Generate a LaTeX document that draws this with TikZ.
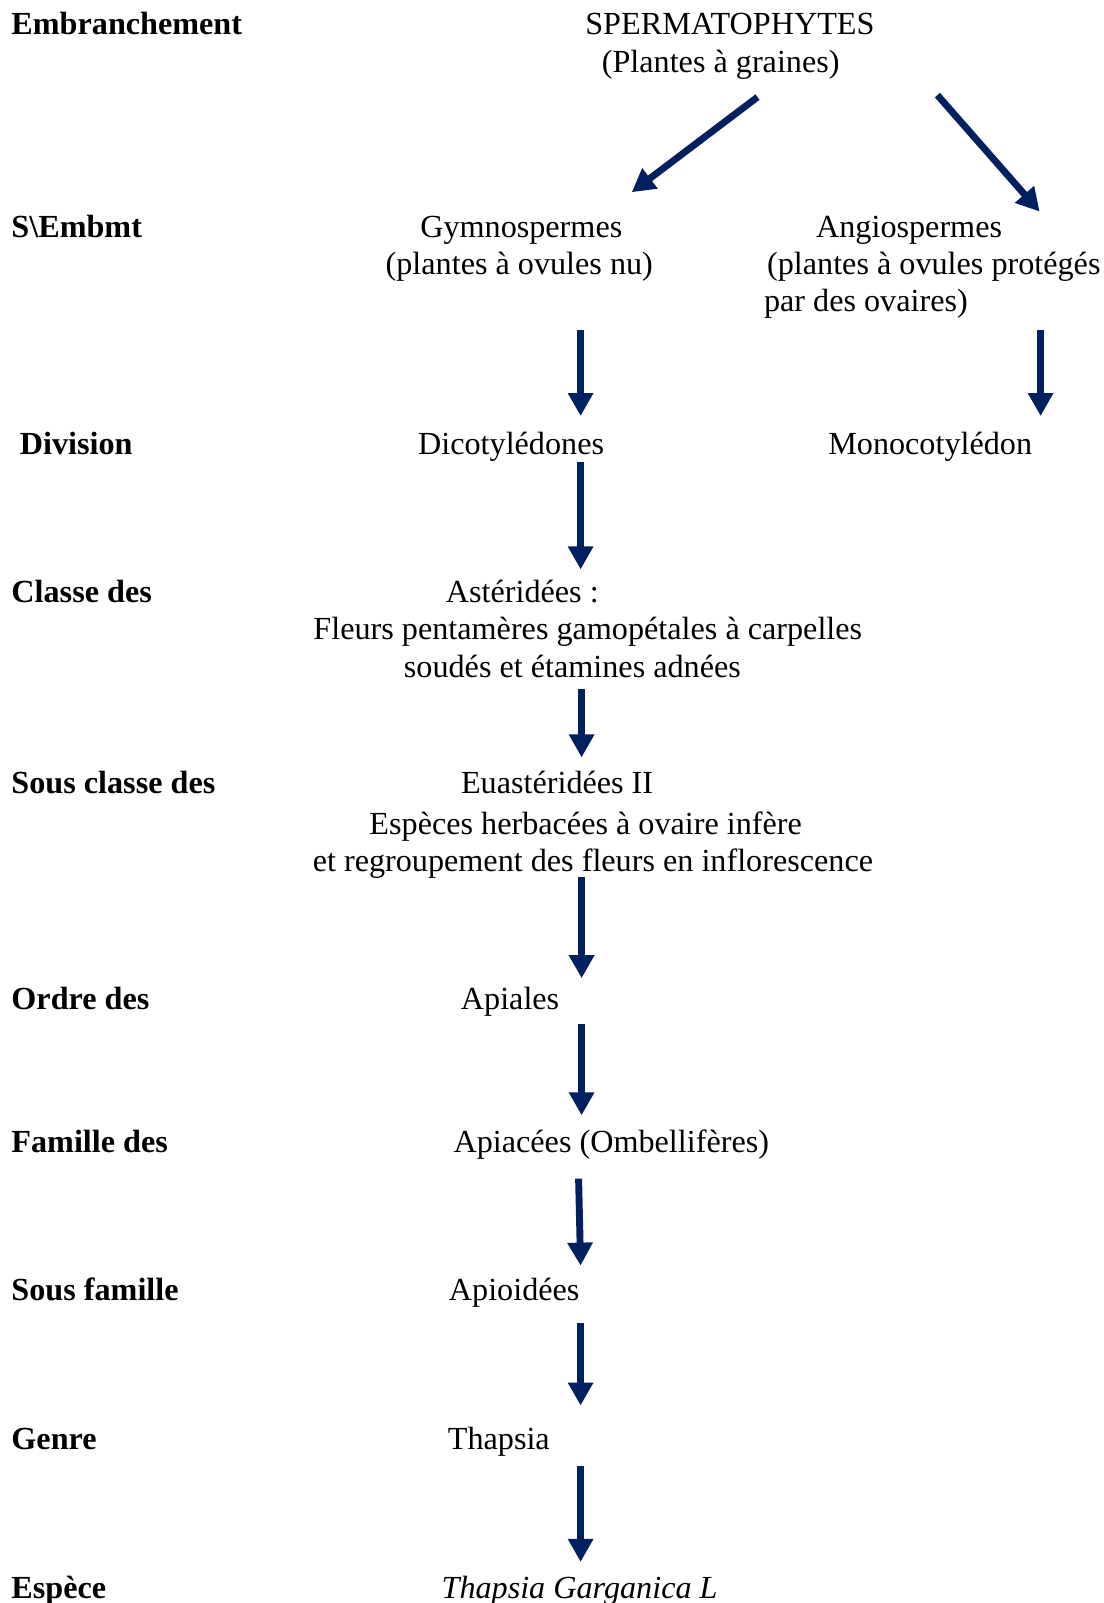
\documentclass[tikz,border=0pt]{standalone}
\usepackage{fontspec}
\setmainfont{Liberation Serif}
\usetikzlibrary{arrows.meta}
\definecolor{bleufonce}{RGB}{0,32,96}

\tikzset{
  rang/.style={anchor=base west, inner sep=0pt, yshift=-0.9pt, font=\fontsize{14}{16}\selectfont\bfseries},
  taxon/.style={anchor=base, inner sep=0pt, yshift=-0.9pt},
  fleche/.style={draw=bleufonce, line width=3pt, -{Triangle[width=10.5pt,length=10pt]}}
}

\begin{document}
\begin{tikzpicture}[x=0.435pt, y=0.435pt, font=\fontsize{14}{16}\selectfont]

\useasboundingbox (0,0) rectangle (1104,-1603);

% rangs
\node[rang] (rEmb) at (11,-32.5) {Embranchement};
\node[rang] (rSEmb) at (11,-235) {S\textbackslash Embmt};
\node[rang] (rDiv) at (19.4,-452.6) {Division};
\node[rang] (rCla) at (11,-600.8) {Classe des};
\node[rang] (rSCla) at (11,-791) {Sous classe des};
\node[rang] (rOrd) at (11,-1007.7) {Ordre des};
\node[rang] (rFam) at (11,-1150.8) {Famille des};
\node[rang] (rSFam) at (11,-1298) {Sous famille};
\node[rang] (rGen) at (11,-1447.2) {Genre};
\node[rang] (rEsp) at (11,-1596.5) {Espèce};

% taxons
\node[taxon] (sperma) at (729.9,-32.5) {SPERMATOPHYTES};
\node[taxon] (spermb) at (720.7,-70.3) {(Plantes à graines)};

\node[taxon] (gymnoa) at (521.3,-235) {Gymnospermes};
\node[taxon] (gymnob) at (519.3,-272.7) {(plantes à ovules nu)};

\node[taxon, anchor=base west] (angioa) at (815.7,-235) {Angiospermes};
\node[taxon, anchor=base west] (angiob) at (766.7,-272.7) {(plantes à ovules protégés};
\node[taxon, anchor=base west] (angioc) at (763.6,-309.5) {par des ovaires)};

\node[taxon] (dico) at (511.1,-452.6) {Dicotylédones};
\node[taxon] (mono) at (930.2,-452.6) {Monocotylédon};

\node[taxon] (astera) at (522.3,-600.8) {Astéridées :};
\node[taxon] (asterb) at (587.8,-637.6) {Fleurs pentamères gamopétales à carpelles};
\node[taxon] (asterc) at (572.4,-675.5) {soudés et étamines adnées};

\node[taxon] (euasta) at (557.1,-791) {Euastéridées II};
\node[taxon] (euastb) at (585.7,-832.9) {Espèces herbacées à ovaire infère};
\node[taxon] (euastc) at (592.9,-869.7) {et regroupement des fleurs en inflorescence};

\node[taxon] (apiales) at (510.1,-1007.7) {Apiales};
\node[taxon] (apiacees) at (611.3,-1150.8) {Apiacées (Ombellifères)};
\node[taxon] (apioid) at (514.2,-1298) {Apioidées};
\node[taxon] (genre) at (498.8,-1447.2) {Thapsia};
\node[taxon] (espece) at (579.6,-1596.5) {\itshape Thapsia Garganica L};

% fleches
\coordinate (f1a) at (757.5,-97.1);   \coordinate (f1b) at (631.7,-192.2);
\coordinate (f2a) at (937.4,-95.1);   \coordinate (f2b) at (1039.6,-211.6);
\coordinate (f3a) at (580.6,-330.2);  \coordinate (f3b) at (580.6,-416);
\coordinate (f4a) at (1040.6,-330.2); \coordinate (f4b) at (1040.6,-416);
\coordinate (f5a) at (580.6,-462);    \coordinate (f5b) at (580.6,-569.4);
\coordinate (f6a) at (581.6,-689);    \coordinate (f6b) at (581.6,-757.4);
\coordinate (f7a) at (581.6,-877.1);  \coordinate (f7b) at (581.6,-978.2);
\coordinate (f8a) at (581.6,-1024.2); \coordinate (f8b) at (581.6,-1115.3);
\coordinate (f9a) at (578.6,-1178.6); \coordinate (f9b) at (580.6,-1265.6);
\coordinate (f10a) at (580.6,-1322.7); \coordinate (f10b) at (580.6,-1405.5);
\coordinate (f11a) at (580.6,-1465.8); \coordinate (f11b) at (580.6,-1561.9);

\foreach \i in {1,...,11}
  \draw[fleche] (f\i a) -- (f\i b);

\end{tikzpicture}
\end{document}
